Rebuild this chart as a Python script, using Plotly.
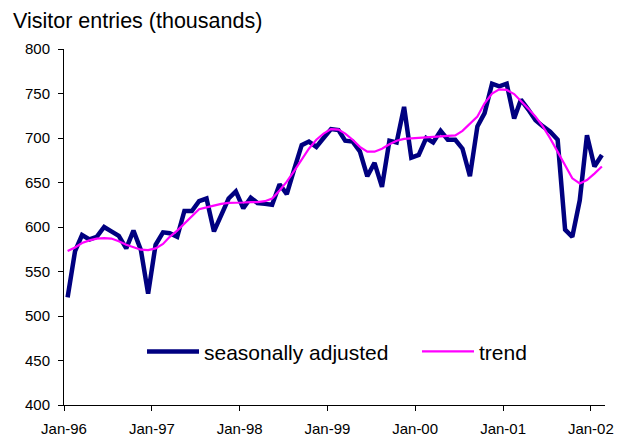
import pandas as pd
import plotly.graph_objects as go

# Monthly data, Jan-1996 .. Feb-2002
start_month = "1996-01-01"
n_months = 74

seasonally_adjusted = [
    521, 573, 591, 586, 589, 600, 595, 590, 576, 596, 574, 525,   # 1996
    580, 594, 593, 589, 618, 618, 629, 632, 595, 613, 632, 640,   # 1997
    621, 633, 627, 626, 625, 648, 637, 665, 692, 696, 690, 700,   # 1998
    710, 709, 697, 696, 685, 657, 672, 645, 697, 695, 735, 678,   # 1999
    681, 700, 695, 708, 698, 698, 688, 657, 713, 728, 761, 758,   # 2000
    761, 722, 743, 732, 720, 713, 707, 698, 597, 589, 630, 703,   # 2001
    668, 681,                                                      # 2002
]

trend = [
    573, 577, 582, 585, 587, 587.5, 587, 584, 580, 577, 574.5, 574,
    576, 581, 589, 596, 604, 613, 620, 622, 624, 626, 627, 627,
    627.5, 628, 628, 629, 632, 641, 651, 663, 675, 688, 698, 705,
    710, 709.5, 705, 698, 690, 684.6, 684.6, 688, 693, 697, 699, 699.6,
    700, 700.8, 701.5, 701.5, 702, 703, 708, 716.5, 724, 739, 750, 754.7,
    754, 749.4, 742, 733, 724, 712.7, 699.6, 684.6, 668, 654.7, 649, 652.8,
    660, 668,
]

tick_dates = ["1996-01-01", "1997-01-01", "1998-01-01", "1999-01-01",
              "2000-01-01", "2001-01-01", "2002-01-01"]
tick_labels = ["Jan-96", "Jan-97", "Jan-98", "Jan-99", "Jan-00", "Jan-01", "Jan-02"]

# points centred within each month (Excel "between tick marks")
months = pd.date_range(start_month, periods=n_months, freq="MS") + pd.Timedelta(days=15)

FONT = "Liberation Sans, Arial, sans-serif"
W, H = 618, 429  # page body adds an 8px margin

fig = go.Figure()
fig.add_trace(go.Scatter(
    x=months, y=seasonally_adjusted, mode="lines", name="seasonally adjusted",
    line=dict(color="#000080", width=4.5), legend="legend",
))
fig.add_trace(go.Scatter(
    x=months, y=trend, mode="lines", name="trend",
    line=dict(color="#FF00FF", width=2.2), legend="legend2",
))

legend_common = dict(orientation="h", xanchor="left", yanchor="top",
                     font=dict(size=21, family=FONT, color="black"),
                     bgcolor="rgba(0,0,0,0)", itemwidth=52)

fig.update_layout(
    width=W, height=H,
    paper_bgcolor="white", plot_bgcolor="white",
    margin=dict(l=56, r=21, t=41, b=32),
    font=dict(family=FONT, color="black"),
    title=dict(text="Visitor entries (thousands)", x=5 / W, xref="container",
               xanchor="left", y=1 - 12 / H, yref="container", yanchor="middle",
               pad=dict(l=0, r=0, t=0, b=0),
               font=dict(size=21.5, family=FONT, color="black")),
    showlegend=True,
    legend=dict(x=0.1442, y=0.207, **legend_common),
    legend2=dict(x=0.6525, y=0.207, **legend_common),
)
fig.update_xaxes(
    type="date", range=["1996-01-01", "2002-03-01"],
    tickvals=tick_dates, ticktext=tick_labels,
    ticks="outside", ticklen=5, tickcolor="black",
    showline=True, linecolor="black", linewidth=1,
    showgrid=False, zeroline=False, automargin=False,
    ticklabelstandoff=5,
    tickfont=dict(size=15, family=FONT, color="black"),
)
fig.update_yaxes(
    range=[400, 800], dtick=50,
    ticks="outside", ticklen=5, tickcolor="black",
    showline=True, linecolor="black", linewidth=1,
    showgrid=False, zeroline=False, automargin=False,
    ticklabelstandoff=5,
    tickfont=dict(size=15, family=FONT, color="black"),
)

fig.write_html("out.html")
